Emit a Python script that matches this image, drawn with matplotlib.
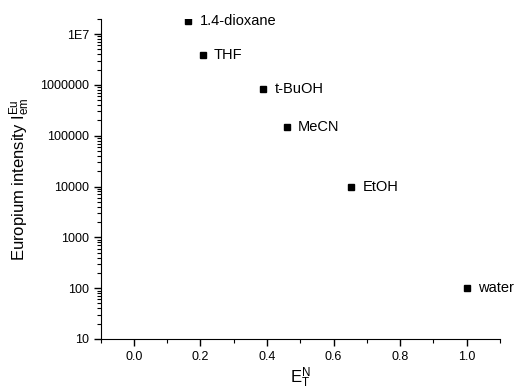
import numpy as np
import matplotlib
matplotlib.use("Agg")
import matplotlib.pyplot as plt
from matplotlib.ticker import FixedLocator, FuncFormatter, LogLocator, MultipleLocator

plt.rcParams["font.family"] = "Liberation Sans"
plt.rcParams["mathtext.fontset"] = "custom"
plt.rcParams["mathtext.rm"] = "Liberation Sans"
plt.rcParams["mathtext.it"] = "Liberation Sans"

# solvent polarity (E_T^N) vs europium emission intensity
solvents = ["1.4-dioxane", "THF", "t-BuOH", "MeCN", "EtOH", "water"]
et_n = [0.164, 0.207, 0.389, 0.460, 0.654, 1.000]
intensity = [1.8e7, 3.9e6, 8.3e5, 1.5e5, 9.6e3, 100]

fig = plt.figure(figsize=(5.19, 3.91), dpi=100)
ax = fig.add_axes([0.194, 0.133, 0.769, 0.819])

ax.plot(et_n, intensity, "s", color="black", markersize=4.5, linestyle="none")
for name, x, y in zip(solvents, et_n, intensity):
    ax.annotate(name, (x, y), xytext=(8, 0), textcoords="offset points",
                va="center", ha="left", fontsize=10.5)

ax.set_yscale("log")
ax.set_xlim(-0.1, 1.1)
ax.set_ylim(10, 2e7)

ax.xaxis.set_major_locator(MultipleLocator(0.2))
ax.xaxis.set_minor_locator(MultipleLocator(0.1))
ax.xaxis.set_major_formatter(FuncFormatter(lambda v, p: "%.1f" % v))

ax.yaxis.set_major_locator(FixedLocator([10, 100, 1e3, 1e4, 1e5, 1e6, 1e7]))
ax.yaxis.set_minor_locator(LogLocator(base=10, subs=np.arange(2, 10)))
ax.yaxis.set_major_formatter(FuncFormatter(lambda v, p: "1E7" if v >= 1e7 else "%d" % v))

for side in ["top", "right"]:
    ax.spines[side].set_visible(False)
ax.tick_params(which="major", direction="out", length=5, width=1, labelsize=9)
ax.tick_params(which="minor", direction="out", length=3, width=0.8)

ax.set_xlabel(r"E$_{\rm T}^{\rm N}$", fontsize=12, labelpad=2)
ax.set_ylabel(r"Europium intensity I$_{\rm em}^{\rm Eu}$", fontsize=12, labelpad=6)

plt.savefig("out.png", dpi=100)
